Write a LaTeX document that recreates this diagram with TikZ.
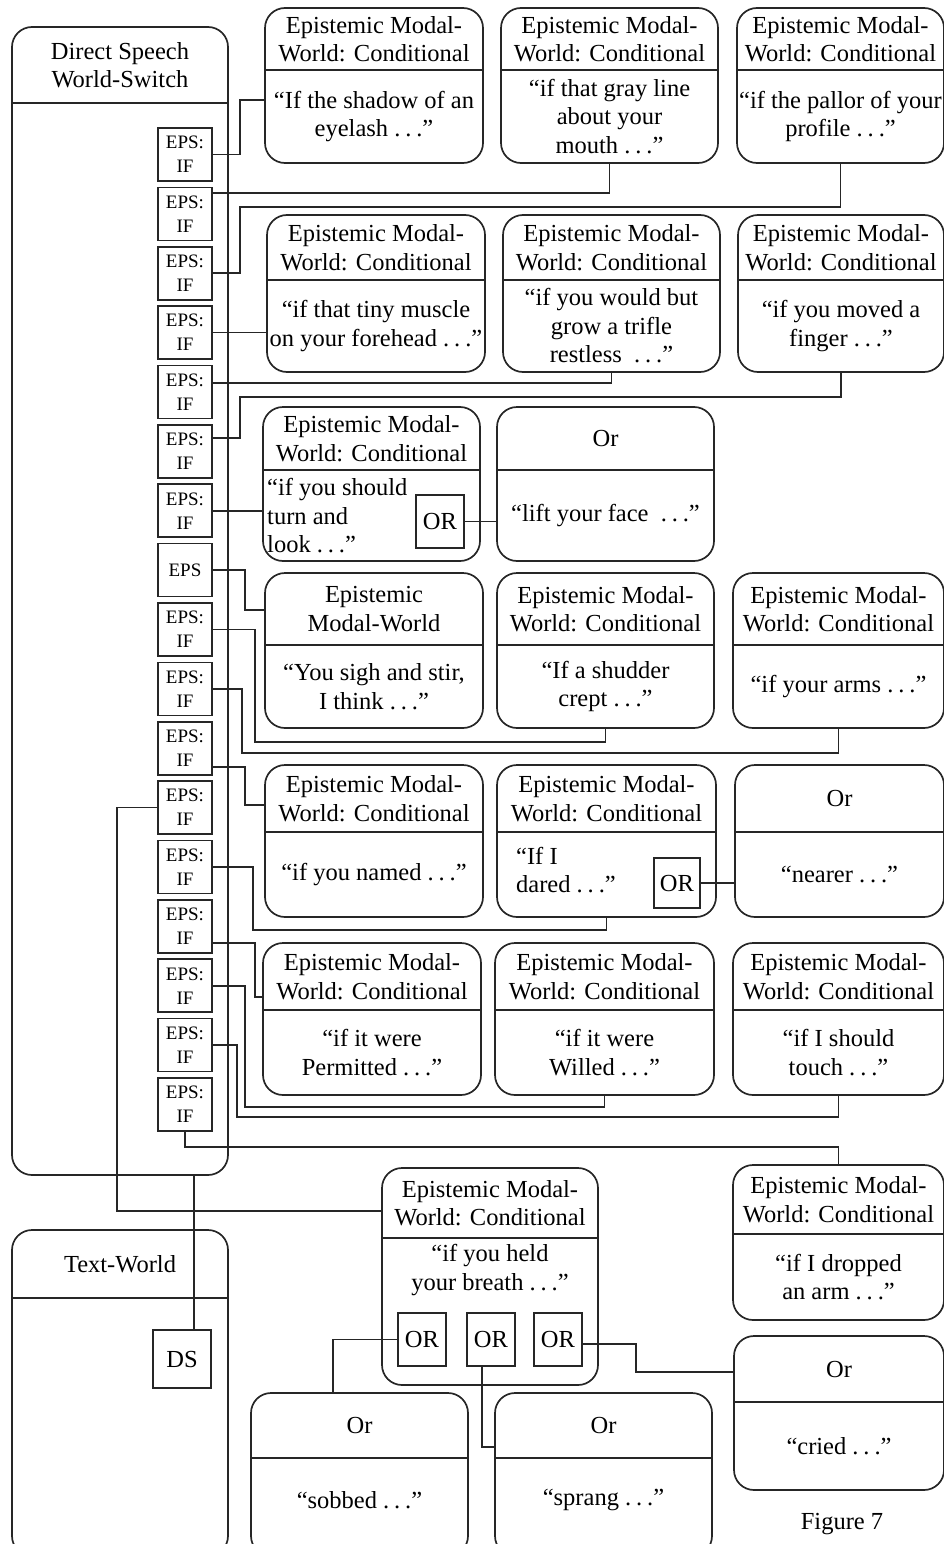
\documentclass[tikz,border=0pt]{standalone}
\usepackage{fontspec}
\setmainfont{Liberation Serif}
\usetikzlibrary{fit}

\tikzset{
  ink/.style={line width=1.7pt, draw=black!85},
  wbox/.style={ink, rounded corners=20pt, inner sep=0pt},
  lbl/.style={align=center, inner sep=0pt, font=\fontsize{24.5}{28.5}\selectfont},
  tag/.style={ink, inner sep=0pt, minimum width=54pt, minimum height=53pt,
    align=center, font=\fontsize{19}{24}\selectfont},
  orbox/.style={ink, inner sep=0pt, minimum width=48pt, minimum height=53pt,
    font=\fontsize{24.5}{28.5}\selectfont},
  link/.style={ink},
}

% world box: name, x1, y1, x2, y2, divider y, title, body
\newcommand{\worldbox}[8]{%
  \node[wbox, fit={(#2,#3) (#4,#5)}] (#1) {};
  \draw[ink] (#2,#6) -- (#4,#6);
  \node[lbl] (#1-t) at ({(#2+#4)/2},{(#3+#6)/2}) {#7};
  \node[lbl] (#1-b) at ({(#2+#4)/2},{(#6+#5)/2}) {#8};
}
\newcommand{\emwc}{Epistemic Modal-\\World: Conditional}
\newcommand{\dd}{.\hspace{0.2em}.\hspace{0.2em}.}

\begin{document}
\begin{tikzpicture}[x=1pt,y=-1pt]
\path[use as bounding box] (0,0) rectangle (944,1544);
\clip (0,0) rectangle (944,1544);

% main worlds
\worldbox{dsws}{12}{27}{228}{1175}{103}{Direct Speech\\World-Switch}{}
\worldbox{tw}{12}{1230}{228}{1556}{1298}{Text-World}{}
\node[orbox, minimum width=58pt, minimum height=58pt] (ds) at (182,1359) {DS};

% epistemic tags inside the world-switch
\node[tag] (p1)  at (185,154.5)  {EPS:\\IF};
\node[tag] (p2)  at (185,213.9)  {EPS:\\IF};
\node[tag] (p3)  at (185,273.3)  {EPS:\\IF};
\node[tag] (p4)  at (185,332.6)  {EPS:\\IF};
\node[tag] (p5)  at (185,392.0)  {EPS:\\IF};
\node[tag] (p6)  at (185,451.4)  {EPS:\\IF};
\node[tag] (p7)  at (185,510.8)  {EPS:\\IF};
\node[tag] (p8)  at (185,570.1)  {EPS};
\node[tag] (p9)  at (185,629.5)  {EPS:\\IF};
\node[tag] (p10) at (185,688.9)  {EPS:\\IF};
\node[tag] (p11) at (185,748.3)  {EPS:\\IF};
\node[tag] (p12) at (185,807.6)  {EPS:\\IF};
\node[tag] (p13) at (185,867.0)  {EPS:\\IF};
\node[tag] (p14) at (185,926.4)  {EPS:\\IF};
\node[tag] (p15) at (185,985.8)  {EPS:\\IF};
\node[tag] (p16) at (185,1045.1) {EPS:\\IF};
\node[tag] (p17) at (185,1104.5) {EPS:\\IF};

% row 1
\worldbox{sh}{265}{8}{483}{163}{70}{\emwc}{“If the shadow of an\\eyelash \dd”}
\worldbox{gray}{501}{8}{718}{163}{70}{\emwc}{“if that gray line\\about your\\mouth \dd”}
\worldbox{pallor}{737}{8}{944}{163}{70}{\emwc}{“if the pallor of your\\profile \dd”}
% row 2
\worldbox{muscle}{267}{215}{485}{372}{280}{\emwc}{“if that tiny muscle\\on your forehead \dd”}
\worldbox{restless}{503}{215}{720}{372}{280}{\emwc}{“if you would but\\grow a trifle\\restless \ \dd”}
\worldbox{finger}{738}{215}{944}{372}{280}{\emwc}{“if you moved a\\finger \dd”}
% row 3
\worldbox{turn}{263}{407}{480}{561}{470}{\emwc}{}
\node[lbl, align=left, anchor=west] (turn-b) at (267,516) {“if you should\\turn and\\look \dd”};
\node[orbox] (or1) at (440,521.5) {OR};
\worldbox{lift}{497}{407}{714}{561}{470}{Or}{“lift your face \ \dd”}
% row 4
\worldbox{sigh}{265}{573}{483}{728}{645}{Epistemic\\Modal-World}{“You sigh and stir,\\I think \dd”}
\worldbox{shudder}{497}{573}{714}{728}{645}{\emwc}{“If a shudder\\crept \dd”}
\worldbox{arms}{733}{573}{944}{728}{645}{\emwc}{“if your arms \dd”}
% row 5
\worldbox{named}{265}{765}{483}{917}{832}{\emwc}{“if you named \dd”}
\worldbox{dared}{497}{765}{716}{917}{832}{\emwc}{}
\node[lbl, align=left, anchor=west] (dared-b) at (516,870) {“If I\\dared \dd”};
\node[orbox, minimum width=46pt, minimum height=50pt] (or2) at (677,883) {OR};
\worldbox{nearer}{735}{765}{944}{917}{832}{Or}{“nearer \dd”}
% row 6
\worldbox{permitted}{263}{943}{481}{1095}{1010}{\emwc}{“if it were\\Permitted \dd”}
\worldbox{willed}{495}{943}{714}{1095}{1010}{\emwc}{“if it were\\Willed \dd”}
\worldbox{touch}{733}{943}{944}{1095}{1010}{\emwc}{“if I should\\touch \dd”}
% row 7
\worldbox{breath}{382}{1168}{598}{1385}{1238}{\emwc}{}
\node[lbl] (breath-b) at (490,1270) {“if you held\\your breath \dd”};
\node[orbox] (orA) at (422,1339.5) {OR};
\node[orbox] (orB) at (491,1339.5) {OR};
\node[orbox] (orC) at (558,1339.5) {OR};
\worldbox{dropped}{733}{1165}{944}{1320}{1234}{\emwc}{“if I dropped\\an arm \dd”}
% row 8
\worldbox{sobbed}{251}{1393}{468}{1556}{1458}{Or}{}
\node[lbl] (sobbed-b) at (359.5,1500) {“sobbed \dd”};
\worldbox{sprang}{495}{1393}{712}{1556}{1458}{Or}{}
\node[lbl] (sprang-b) at (603.5,1500) {“sprang \dd”};
\worldbox{cried}{734}{1336}{944}{1490}{1402}{Or}{“cried \dd”}

\node[lbl] (fig) at (842,1524) {Figure 7};

% connectors from the tags to their worlds
\draw[link] (p1.east) -| (240,100) -- (sh.west |- 240,100);
\draw[link] (p2.east |- 0,193) -| (gray.south);
\draw[link] (p3.east) -| (240,207) -| (pallor.south);
\draw[link] (p4.east) -- (muscle.west |- p4.east);
\draw[link] (p5.east |- 0,383) -| (restless.south);
\draw[link] (p6.east |- 0,438) -| (240,397) -| (finger.south);
\draw[link] (p7.east) -- (turn.west |- p7.east);
\draw[link] (p8.east) -| (245,610) -- (sigh.west |- 0,610);
\draw[link] (p9.east) -| (255,742) -| (shudder.south);
\draw[link] (p10.east) -| (242,753) -| (arms.south);
\draw[link] (p11.east |- 0,767) -| (245,805) -- (named.west |- 0,805);
\draw[link] (p12.west) -| (117,1211) -- (breath.west |- 0,1211);
\draw[link] (p13.east) -| (253,930) -| (dared.south);
\draw[link] (p14.east |- 0,943) -| (255,997) -- (permitted.west |- 0,997);
\draw[link] (p15.east) -| (245,1107) -| (willed.south);
\draw[link] (p16.east) -| (237,1117) -| (touch.south);
\draw[link] (p17.south) |- (dropped.north |- 0,1147) -- (dropped.north);
\draw[link] (dsws.south -| 194,0) -- (ds.north -| 194,0);

% alternatives
\draw[link] (or1.east) -- (lift.west |- or1.east);
\draw[link] (or2.east) -- (nearer.west |- or2.east);
\draw[link] (orA.west) -| (sobbed.north -| 333,0);
\draw[link] (orB.south -| 482,0) |- (sprang.west |- 0,1447);
\draw[link] (orC.east |- 0,1344) -| (636,1372) -- (cried.west |- 0,1372);
\end{tikzpicture}
\end{document}
